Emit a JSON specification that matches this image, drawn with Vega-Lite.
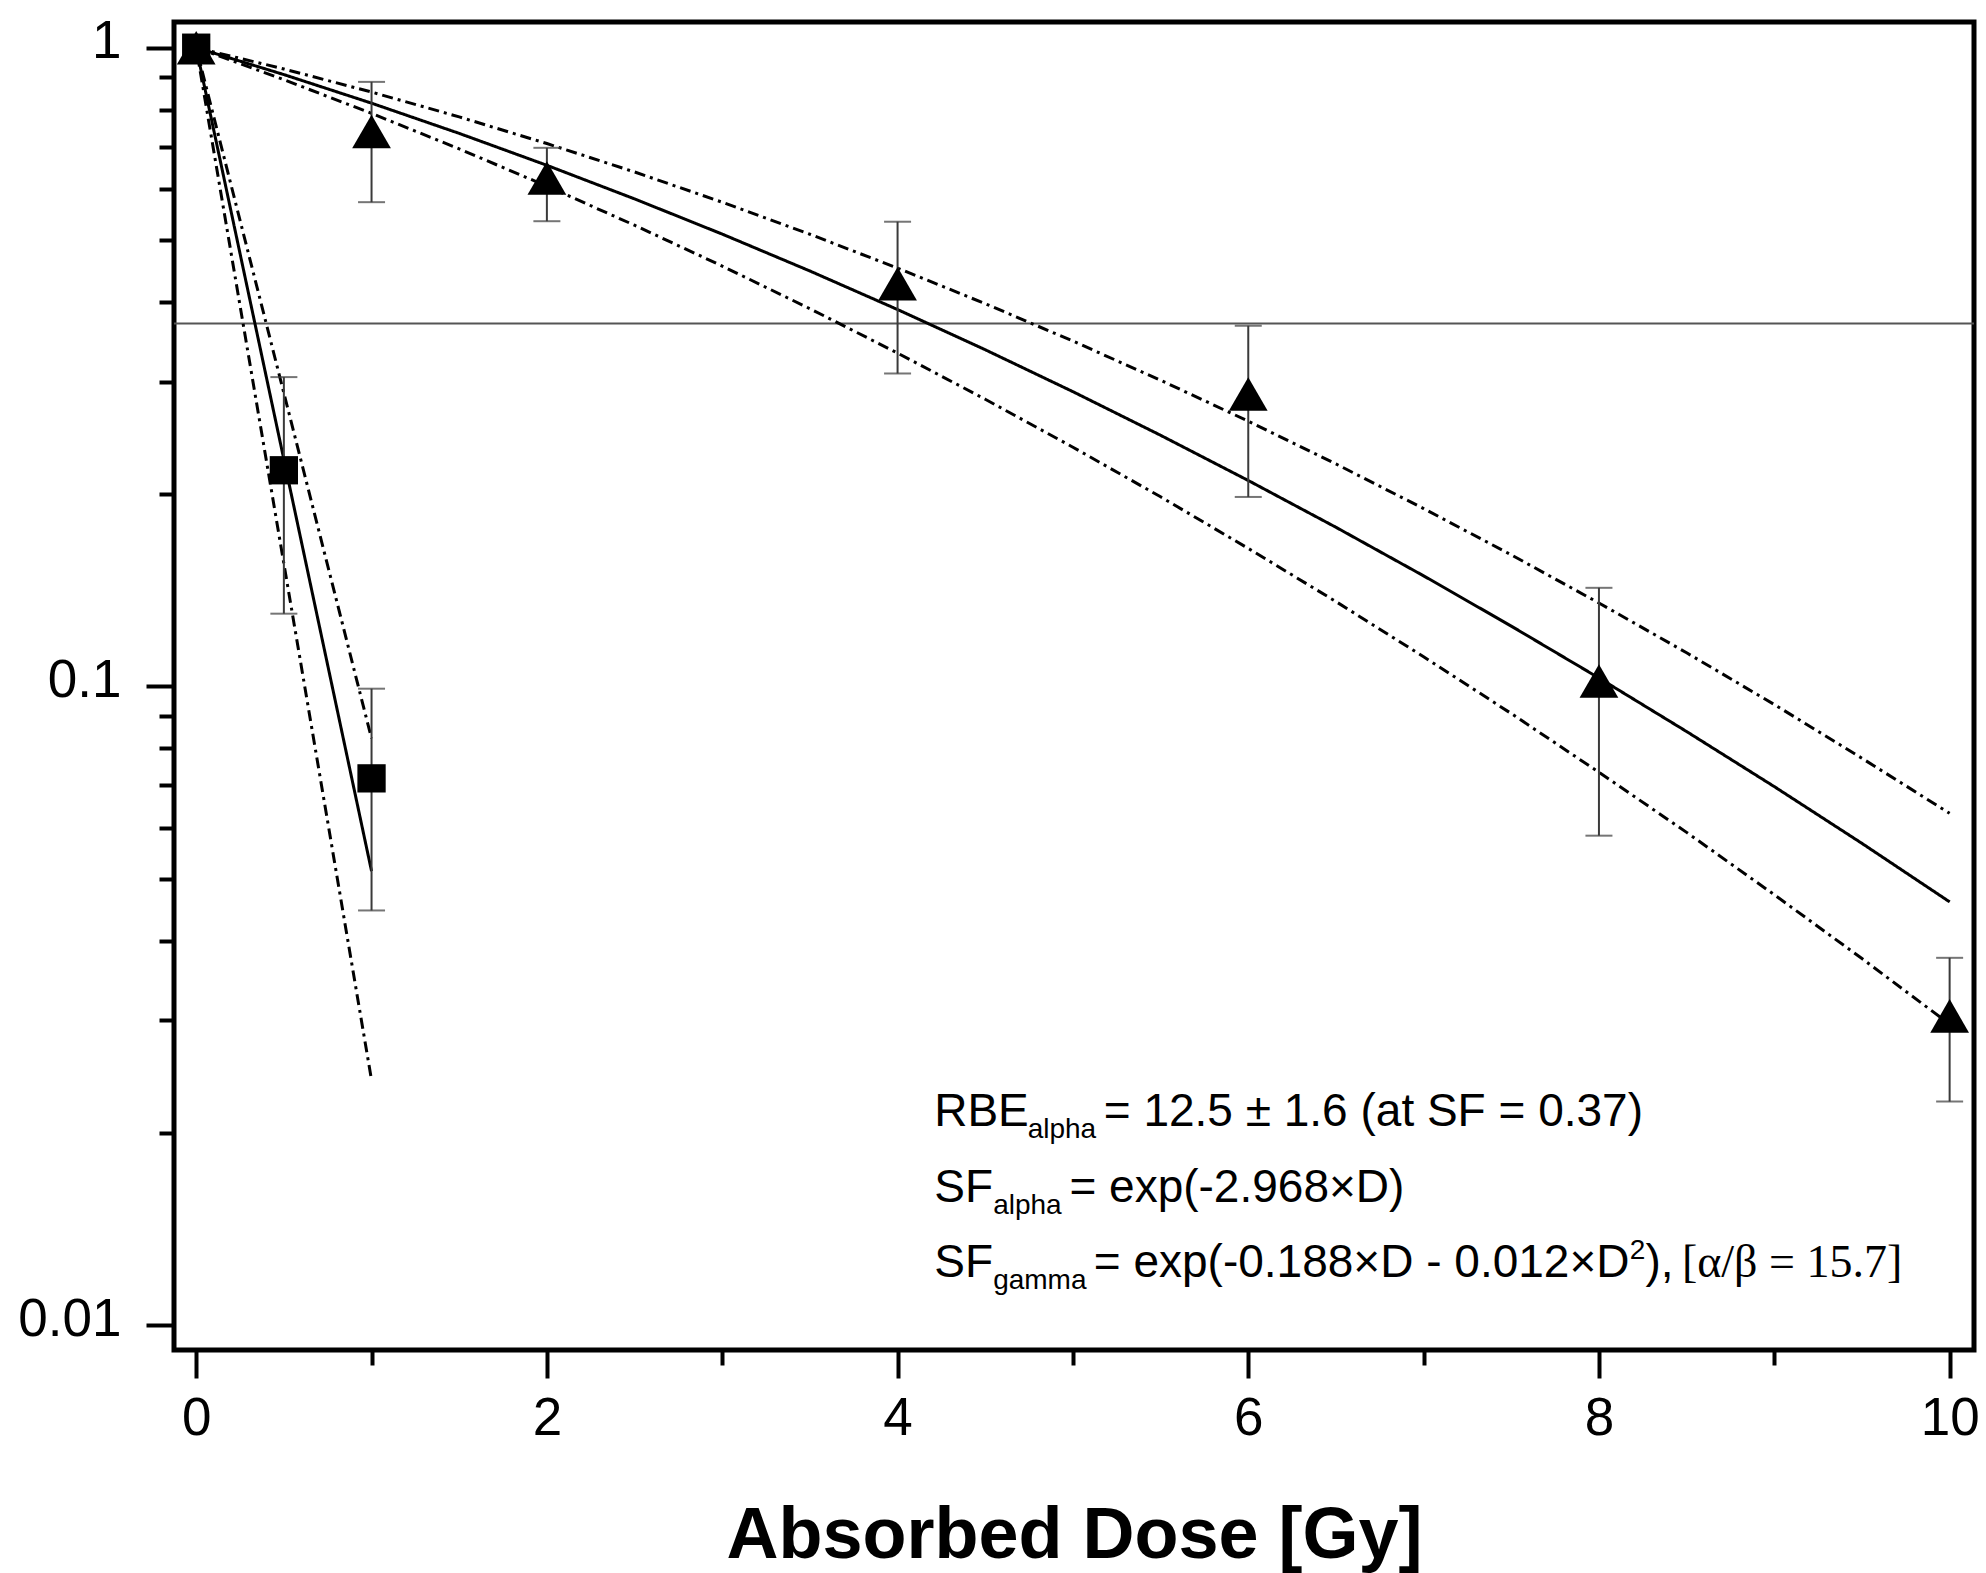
{
  "$schema": "https://vega.github.io/schema/vega-lite/v6.json",
  "width": 1800,
  "height": 1328,
  "autosize": "none",
  "padding": {"left": 174, "top": 22, "right": 12, "bottom": 223},
  "background": "white",
  "config": {
    "view": {"stroke": "black", "strokeWidth": 5},
    "axis": {"domain": false, "grid": false, "tickColor": "black", "tickWidth": 4, "labelColor": "black", "labelFont": "Liberation Sans", "labelFontSize": 53, "titleColor": "black"}
  },
  "resolve": {"axis": {"x": "independent", "y": "independent"}},
  "datasets": {
    "curves": [
      {"D": 0, "SF": 1, "curve": "a_fit", "style": "solid"},
      {"D": 0.5, "SF": 0.2267, "curve": "a_fit", "style": "solid"},
      {"D": 1, "SF": 0.0514, "curve": "a_fit", "style": "solid"},
      {"D": 0, "SF": 1, "curve": "a_hi", "style": "dashdot"},
      {"D": 0.5, "SF": 0.288, "curve": "a_hi", "style": "dashdot"},
      {"D": 1, "SF": 0.0829, "curve": "a_hi", "style": "dashdot"},
      {"D": 0, "SF": 1, "curve": "a_lo", "style": "dashdot"},
      {"D": 0.5, "SF": 0.1557, "curve": "a_lo", "style": "dashdot"},
      {"D": 1, "SF": 0.0242, "curve": "a_lo", "style": "dashdot"},
      {"D": 0, "SF": 1, "curve": "g_fit", "style": "solid"},
      {"D": 0.5, "SF": 0.9076, "curve": "g_fit", "style": "solid"},
      {"D": 1, "SF": 0.8187, "curve": "g_fit", "style": "solid"},
      {"D": 1.5, "SF": 0.7342, "curve": "g_fit", "style": "solid"},
      {"D": 2, "SF": 0.6544, "curve": "g_fit", "style": "solid"},
      {"D": 2.5, "SF": 0.5798, "curve": "g_fit", "style": "solid"},
      {"D": 3, "SF": 0.5107, "curve": "g_fit", "style": "solid"},
      {"D": 3.5, "SF": 0.4471, "curve": "g_fit", "style": "solid"},
      {"D": 4, "SF": 0.3891, "curve": "g_fit", "style": "solid"},
      {"D": 4.5, "SF": 0.3366, "curve": "g_fit", "style": "solid"},
      {"D": 5, "SF": 0.2894, "curve": "g_fit", "style": "solid"},
      {"D": 5.5, "SF": 0.2473, "curve": "g_fit", "style": "solid"},
      {"D": 6, "SF": 0.2101, "curve": "g_fit", "style": "solid"},
      {"D": 6.5, "SF": 0.1775, "curve": "g_fit", "style": "solid"},
      {"D": 7, "SF": 0.149, "curve": "g_fit", "style": "solid"},
      {"D": 7.5, "SF": 0.1243, "curve": "g_fit", "style": "solid"},
      {"D": 8, "SF": 0.1031, "curve": "g_fit", "style": "solid"},
      {"D": 8.5, "SF": 0.085, "curve": "g_fit", "style": "solid"},
      {"D": 9, "SF": 0.0697, "curve": "g_fit", "style": "solid"},
      {"D": 9.5, "SF": 0.0568, "curve": "g_fit", "style": "solid"},
      {"D": 10, "SF": 0.046, "curve": "g_fit", "style": "solid"},
      {"D": 0, "SF": 1, "curve": "g_hi", "style": "dashdot"},
      {"D": 0.5, "SF": 0.9262, "curve": "g_hi", "style": "dashdot"},
      {"D": 1, "SF": 0.8522, "curve": "g_hi", "style": "dashdot"},
      {"D": 1.5, "SF": 0.7792, "curve": "g_hi", "style": "dashdot"},
      {"D": 2, "SF": 0.7078, "curve": "g_hi", "style": "dashdot"},
      {"D": 2.5, "SF": 0.6389, "curve": "g_hi", "style": "dashdot"},
      {"D": 3, "SF": 0.5729, "curve": "g_hi", "style": "dashdot"},
      {"D": 3.5, "SF": 0.5104, "curve": "g_hi", "style": "dashdot"},
      {"D": 4, "SF": 0.4518, "curve": "g_hi", "style": "dashdot"},
      {"D": 4.5, "SF": 0.3974, "curve": "g_hi", "style": "dashdot"},
      {"D": 5, "SF": 0.3473, "curve": "g_hi", "style": "dashdot"},
      {"D": 5.5, "SF": 0.3016, "curve": "g_hi", "style": "dashdot"},
      {"D": 6, "SF": 0.2602, "curve": "g_hi", "style": "dashdot"},
      {"D": 6.5, "SF": 0.223, "curve": "g_hi", "style": "dashdot"},
      {"D": 7, "SF": 0.1899, "curve": "g_hi", "style": "dashdot"},
      {"D": 7.5, "SF": 0.1607, "curve": "g_hi", "style": "dashdot"},
      {"D": 8, "SF": 0.1351, "curve": "g_hi", "style": "dashdot"},
      {"D": 8.5, "SF": 0.1129, "curve": "g_hi", "style": "dashdot"},
      {"D": 9, "SF": 0.0937, "curve": "g_hi", "style": "dashdot"},
      {"D": 9.5, "SF": 0.0772, "curve": "g_hi", "style": "dashdot"},
      {"D": 10, "SF": 0.0633, "curve": "g_hi", "style": "dashdot"},
      {"D": 0, "SF": 1, "curve": "g_lo", "style": "dashdot"},
      {"D": 0.5, "SF": 0.8912, "curve": "g_lo", "style": "dashdot"},
      {"D": 1, "SF": 0.7891, "curve": "g_lo", "style": "dashdot"},
      {"D": 1.5, "SF": 0.6943, "curve": "g_lo", "style": "dashdot"},
      {"D": 2, "SF": 0.607, "curve": "g_lo", "style": "dashdot"},
      {"D": 2.5, "SF": 0.5273, "curve": "g_lo", "style": "dashdot"},
      {"D": 3, "SF": 0.4551, "curve": "g_lo", "style": "dashdot"},
      {"D": 3.5, "SF": 0.3903, "curve": "g_lo", "style": "dashdot"},
      {"D": 4, "SF": 0.3326, "curve": "g_lo", "style": "dashdot"},
      {"D": 4.5, "SF": 0.2816, "curve": "g_lo", "style": "dashdot"},
      {"D": 5, "SF": 0.2369, "curve": "g_lo", "style": "dashdot"},
      {"D": 5.5, "SF": 0.1981, "curve": "g_lo", "style": "dashdot"},
      {"D": 6, "SF": 0.1645, "curve": "g_lo", "style": "dashdot"},
      {"D": 6.5, "SF": 0.1358, "curve": "g_lo", "style": "dashdot"},
      {"D": 7, "SF": 0.1113, "curve": "g_lo", "style": "dashdot"},
      {"D": 7.5, "SF": 0.0907, "curve": "g_lo", "style": "dashdot"},
      {"D": 8, "SF": 0.0734, "curve": "g_lo", "style": "dashdot"},
      {"D": 8.5, "SF": 0.0591, "curve": "g_lo", "style": "dashdot"},
      {"D": 9, "SF": 0.0472, "curve": "g_lo", "style": "dashdot"},
      {"D": 9.5, "SF": 0.0375, "curve": "g_lo", "style": "dashdot"},
      {"D": 10, "SF": 0.0296, "curve": "g_lo", "style": "dashdot"}
    ],
    "pts": [
      {"D": 0, "SF": 1, "grp": "gamma"},
      {"D": 1, "SF": 0.739, "lo": 0.573, "hi": 0.884, "grp": "gamma"},
      {"D": 2, "SF": 0.625, "lo": 0.535, "hi": 0.697, "grp": "gamma"},
      {"D": 4, "SF": 0.427, "lo": 0.309, "hi": 0.534, "grp": "gamma"},
      {"D": 6, "SF": 0.287, "lo": 0.198, "hi": 0.367, "grp": "gamma"},
      {"D": 8, "SF": 0.102, "lo": 0.0584, "hi": 0.1427, "grp": "gamma"},
      {"D": 10, "SF": 0.0305, "lo": 0.0224, "hi": 0.0376, "grp": "gamma"},
      {"D": 0, "SF": 1, "grp": "alpha"},
      {"D": 0.5, "SF": 0.218, "lo": 0.13, "hi": 0.305, "grp": "alpha"},
      {"D": 1, "SF": 0.0718, "lo": 0.0446, "hi": 0.0992, "grp": "alpha"}
    ],
    "notes": [
      {"kind": "main", "txt": "RBE", "D": 4.209, "SF": 0.02054},
      {"kind": "sub", "txt": "alpha", "D": 4.742, "SF": 0.02054},
      {"kind": "main", "txt": "= 12.5 ± 1.6 (at SF = 0.37)", "D": 5.176, "SF": 0.02054},
      {"kind": "main", "txt": "SF", "D": 4.209, "SF": 0.01562},
      {"kind": "sub", "txt": "alpha", "D": 4.545, "SF": 0.01562},
      {"kind": "main", "txt": "= exp(-2.968×D)", "D": 4.98, "SF": 0.01562},
      {"kind": "main", "txt": "SF", "D": 4.209, "SF": 0.01188},
      {"kind": "sub", "txt": "gamma", "D": 4.545, "SF": 0.01188},
      {"kind": "main", "txt": "= exp(-0.188×D - 0.012×D", "D": 5.119, "SF": 0.01188},
      {"kind": "sup", "txt": "2", "D": 8.175, "SF": 0.01188},
      {"kind": "main", "txt": "),", "D": 8.265, "SF": 0.01188},
      {"kind": "serif", "txt": "[α/β = 15.7]", "D": 8.473, "SF": 0.01188}
    ],
    "ref": [{"SF": 0.37}]
  },
  "layer": [
    {
      "data": {"name": "ref"},
      "mark": {"type": "rule", "color": "#555555", "strokeWidth": 2},
      "encoding": {
        "y": {
          "field": "SF", "type": "quantitative",
          "scale": {"type": "log", "domain": [0.009146, 1.097], "nice": false},
          "axis": null
        }
      }
    },
    {
      "data": {"name": "curves"},
      "mark": {"type": "line", "color": "black", "strokeWidth": 3},
      "encoding": {
        "x": {
          "field": "D", "type": "quantitative",
          "scale": {"domain": [-0.1266, 10.139], "nice": false, "zero": false},
          "axis": {
            "values": [0, 2, 4, 6, 8, 10],
            "title": "Absorbed Dose [Gy]",
            "titleFont": "Liberation Sans",
            "titleFontWeight": "bold",
            "titleFontSize": 72,
            "titlePadding": 55,
            "orient": "bottom",
            "tickSize": 28,
            "labelPadding": 14,
            "labelFlush": false,
            "labelOverlap": false
          }
        },
        "y": {
          "field": "SF", "type": "quantitative",
          "axis": {
            "values": [0.01, 0.1, 1],
            "title": null,
            "orient": "left",
            "tickSize": 28,
            "labelExpr": "datum.value == 1 ? '1' : datum.value == 0.1 ? '0.1' : '0.01'",
            "labelPadding": 25,
            "labelOffset": -6
          }
        },
        "detail": {"field": "curve", "type": "nominal"},
        "strokeDash": {"field": "style", "type": "nominal", "scale": {"domain": ["solid", "dashdot"], "range": [[1, 0], [11, 5, 3, 5]]}, "legend": null}
      }
    },
    {
      "data": {"name": "pts"},
      "transform": [{"filter": "isValid(datum.lo)"}],
      "mark": {"type": "errorbar", "color": "#3a3a3a", "thickness": 2, "ticks": {"size": 27, "thickness": 2, "color": "#3a3a3a"}},
      "encoding": {
        "x": {"field": "D", "type": "quantitative", "axis": null},
        "y": {"field": "lo", "type": "quantitative", "axis": null},
        "y2": {"field": "hi"}
      }
    },
    {
      "data": {"name": "pts"},
      "mark": {"type": "point", "filled": true, "color": "black", "opacity": 1},
      "encoding": {
        "x": {
          "field": "D", "type": "quantitative",
          "axis": {"values": [1, 3, 5, 7, 9], "orient": "bottom", "title": null, "tickSize": 15, "labels": false}
        },
        "y": {
          "field": "SF", "type": "quantitative",
          "axis": {"values": [0.02, 0.03, 0.04, 0.05, 0.06, 0.07, 0.08, 0.09, 0.2, 0.3, 0.4, 0.5, 0.6, 0.7, 0.8, 0.9], "orient": "left", "title": null, "tickSize": 15, "labels": false}
        },
        "shape": {"field": "grp", "type": "nominal", "scale": {"domain": ["alpha", "gamma"], "range": ["square", "triangle-up"]}, "legend": null},
        "size": {"field": "grp", "type": "nominal", "scale": {"domain": ["alpha", "gamma"], "range": [800, 1500]}, "legend": null}
      }
    },
    {
      "data": {"name": "notes"},
      "transform": [{"filter": "datum.kind == 'main'"}],
      "mark": {"type": "text", "align": "left", "baseline": "alphabetic", "font": "Liberation Sans", "fontSize": 46, "color": "black"},
      "encoding": {
        "x": {"field": "D", "type": "quantitative", "axis": null},
        "y": {"field": "SF", "type": "quantitative", "axis": null},
        "text": {"field": "txt"}
      }
    },
    {
      "data": {"name": "notes"},
      "transform": [{"filter": "datum.kind == 'sub'"}],
      "mark": {"type": "text", "align": "left", "baseline": "alphabetic", "font": "Liberation Sans", "fontSize": 28, "dy": 12, "color": "black"},
      "encoding": {
        "x": {"field": "D", "type": "quantitative", "axis": null},
        "y": {"field": "SF", "type": "quantitative", "axis": null},
        "text": {"field": "txt"}
      }
    },
    {
      "data": {"name": "notes"},
      "transform": [{"filter": "datum.kind == 'sup'"}],
      "mark": {"type": "text", "align": "left", "baseline": "alphabetic", "font": "Liberation Sans", "fontSize": 28, "dy": -18, "color": "black"},
      "encoding": {
        "x": {"field": "D", "type": "quantitative", "axis": null},
        "y": {"field": "SF", "type": "quantitative", "axis": null},
        "text": {"field": "txt"}
      }
    },
    {
      "data": {"name": "notes"},
      "transform": [{"filter": "datum.kind == 'serif'"}],
      "mark": {"type": "text", "align": "left", "baseline": "alphabetic", "font": "Liberation Serif", "fontSize": 46, "color": "black"},
      "encoding": {
        "x": {"field": "D", "type": "quantitative", "axis": null},
        "y": {"field": "SF", "type": "quantitative", "axis": null},
        "text": {"field": "txt"}
      }
    }
  ]
}
